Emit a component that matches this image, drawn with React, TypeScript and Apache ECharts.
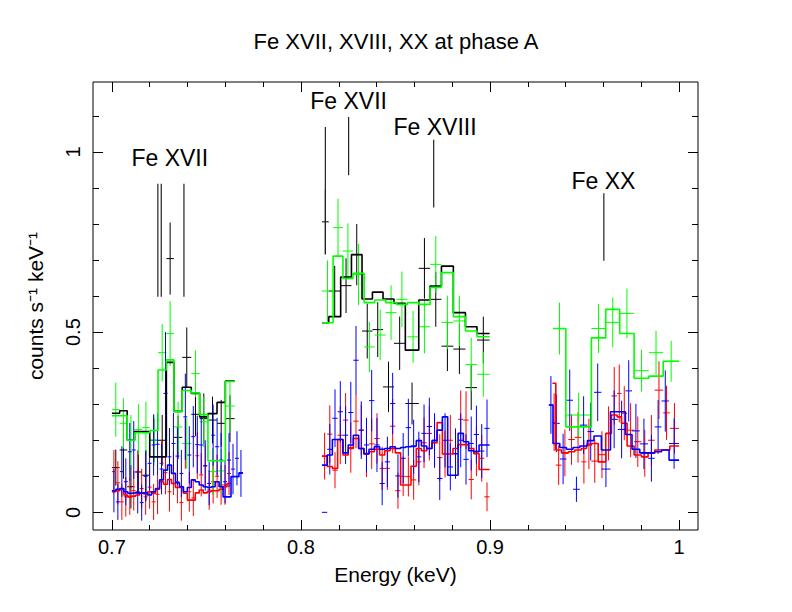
import { useEffect, useRef } from "react";
import * as echarts from "echarts";

const FONT = '"Liberation Sans", Arial, Helvetica, sans-serif';

const titleText = "Fe XVII, XVIII, XX at phase A";
const xName = "Energy (keV)";
const yName = "counts s\u207B\u00B9 keV\u207B\u00B9";

const xMajorTicks = [0.7, 0.8, 0.9, 1.0];
const xMinorTicks = [0.72, 0.74, 0.76, 0.78, 0.82, 0.84, 0.86, 0.88, 0.92, 0.94, 0.96, 0.98];
const yMajorTicks = [0, 0.5, 1];
const yMinorTicks = [0.1, 0.2, 0.3, 0.4, 0.6, 0.7, 0.8, 0.9, 1.1];

// ---------- black ----------
const blackEdges = [
  [0.7000, 0.7041, 0.7081, 0.7120, 0.7160, 0.7200, 0.7244, 0.7288, 0.7328, 0.7372, 0.7420, 0.7464, 0.7508, 0.7556, 0.7600, 0.7649],
  [0.8111, 0.8147, 0.8210, 0.8267, 0.8323, 0.8378, 0.8434, 0.8492, 0.8552, 0.8623, 0.8683, 0.8743, 0.8806, 0.8870, 0.8931, 0.8998],
];
const blackModel = [
  [0.275, 0.282, 0.200, 0.224, 0.224, 0.154, 0.154, 0.416, 0.280, 0.347, 0.330, 0.265, 0.274, 0.305, 0.364],
  [0.526, 0.543, 0.653, 0.715, 0.592, 0.611, 0.592, 0.580, 0.450, 0.589, 0.628, 0.683, 0.554, 0.515, 0.496],
];
const blackData = [
  [0.124, 0.173, 0.071, 0.112, 0.103, 0.200, 0.200, 0.704, 0.208, 0.430, 0.272, 0.260, 0.256, 0.247, 0.260],
  [0.806, 0.614, 0.629, 0.715, 0.503, 0.507, 0.348, 0.469, 0.302, 0.677, 0.591, 0.461, 0.453, 0.346, 0.478],
];
const blackErr = [
  [0.050, 0.080, 0.060, 0.060, 0.070, 0.060, 0.070, 0.100, 0.060, 0.083, 0.060, 0.070, 0.065, 0.065, 0.065],
  [0.090, 0.070, 0.076, 0.085, 0.076, 0.076, 0.070, 0.074, 0.058, 0.084, 0.076, 0.069, 0.069, 0.062, 0.065],
];

// ---------- green ----------
const greenEdges = [
  [0.7000, 0.7041, 0.7081, 0.7120, 0.7160, 0.7200, 0.7244, 0.7288, 0.7328, 0.7372, 0.7420, 0.7464, 0.7508, 0.7556, 0.7600, 0.7649],
  [0.8111, 0.8170, 0.8222, 0.8275, 0.8334, 0.8390, 0.8448, 0.8505, 0.8563, 0.8623, 0.8683, 0.8743, 0.8806, 0.8870, 0.8931, 0.8998],
  [0.9334, 0.9401, 0.9536, 0.9612, 0.9686, 0.9762, 0.9840, 0.9916, 1.0000],
];
const greenModel = [
  [0.268, 0.268, 0.200, 0.221, 0.221, 0.227, 0.395, 0.423, 0.280, 0.338, 0.331, 0.271, 0.143, 0.143, 0.363],
  [0.526, 0.711, 0.649, 0.663, 0.582, 0.589, 0.582, 0.577, 0.582, 0.577, 0.624, 0.665, 0.543, 0.503, 0.487],
  [0.510, 0.237, 0.484, 0.563, 0.496, 0.372, 0.378, 0.419],
];
const greenData = [
  [0.285, 0.247, 0.200, 0.230, 0.235, 0.200, 0.443, 0.496, 0.237, 0.191, 0.385, 0.251, 0.113, 0.115, 0.295],
  [0.614, 0.790, 0.725, 0.660, 0.459, 0.492, 0.554, 0.591, 0.487, 0.515, 0.688, 0.527, 0.531, 0.410, 0.383],
  [0.510, 0.270, 0.510, 0.527, 0.552, 0.393, 0.443, 0.419],
];
const greenErr = [
  [0.075, 0.070, 0.070, 0.070, 0.072, 0.070, 0.080, 0.090, 0.070, 0.070, 0.065, 0.070, 0.065, 0.060, 0.070],
  [0.085, 0.080, 0.077, 0.085, 0.070, 0.070, 0.076, 0.077, 0.072, 0.074, 0.079, 0.074, 0.070, 0.074, 0.062],
  [0.072, 0.062, 0.068, 0.069, 0.069, 0.058, 0.061, 0.057],
];

// ---------- red ----------
const redEdges = [
  [0.7000, 0.7021, 0.7042, 0.7063, 0.7084, 0.7105, 0.7126, 0.7147, 0.7168, 0.7189, 0.7210, 0.7231, 0.7252, 0.7273, 0.7294, 0.7315,
    0.7336, 0.7357, 0.7378, 0.7399, 0.7420, 0.7441, 0.7462, 0.7483, 0.7504, 0.7525, 0.7546, 0.7567, 0.7588, 0.7609, 0.7630],
  [0.8111, 0.8139, 0.8166, 0.8194, 0.8222, 0.8250, 0.8277, 0.8305, 0.8333, 0.8360, 0.8388, 0.8416, 0.8443, 0.8471, 0.8499, 0.8527,
    0.8554, 0.8582, 0.8610, 0.8637, 0.8665, 0.8693, 0.8720, 0.8748, 0.8776, 0.8804, 0.8831, 0.8859, 0.8887, 0.8914, 0.8942, 0.8970, 0.8998],
  [0.9330, 0.9348, 0.9378, 0.9414, 0.9448, 0.9483, 0.9510, 0.9536, 0.9572, 0.9612, 0.9642, 0.9672, 0.9695, 0.9725, 0.9762, 0.9801,
    0.9836, 0.9871, 0.9916, 0.9951, 1.0000],
];
const redModel = [
  [0.057, 0.060, 0.064, 0.048, 0.043, 0.045, 0.048, 0.053, 0.051, 0.057, 0.053, 0.064, 0.085, 0.078, 0.091, 0.080,
    0.069, 0.069, 0.053, 0.034, 0.034, 0.054, 0.062, 0.054, 0.057, 0.060, 0.060, 0.064, 0.071, 0.080],
  [0.156, 0.127, 0.122, 0.202, 0.159, 0.177, 0.205, 0.177, 0.163, 0.168, 0.175, 0.159, 0.171, 0.177, 0.165, 0.076,
    0.076, 0.128, 0.177, 0.171, 0.177, 0.193, 0.249, 0.162, 0.162, 0.177, 0.188, 0.188, 0.177, 0.163, 0.119, 0.119],
  [0.358, 0.173, 0.165, 0.168, 0.173, 0.177, 0.187, 0.191, 0.140, 0.219, 0.270, 0.265, 0.247, 0.184, 0.159, 0.154,
    0.164, 0.173, 0.173, 0.184],
];
const redData = [
  [0.113, 0.082, 0.029, 0.043, 0.043, 0.060, 0.112, 0.066, 0.043, 0.070, 0.029, 0.050, 0.136, 0.110, 0.057, 0.108,
    0.085, 0.027, 0.191, 0.057, 0.040, 0.157, 0.104, 0.128, 0.062, 0.085, 0.100, 0.076, 0.076, 0.108],
  [0.156, 0.217, 0.117, 0.214, 0.256, 0.180, 0.253, 0.228, 0.163, 0.190, 0.205, 0.122, 0.122, 0.239, 0.060, 0.100,
    0.099, 0.090, 0.140, 0.193, 0.219, 0.193, 0.152, 0.162, 0.200, 0.162, 0.258, 0.256, 0.091, 0.170, 0.150, 0.043],
  [0.250, 0.131, 0.165, 0.202, 0.208, 0.140, 0.190, 0.142, 0.160, 0.219, 0.323, 0.330, 0.275, 0.228, 0.196, 0.164,
    0.200, 0.339, 0.276, 0.233],
];
const redErr = [
  [0.060, 0.060, 0.050, 0.055, 0.050, 0.055, 0.060, 0.055, 0.050, 0.060, 0.050, 0.055, 0.065, 0.060, 0.055, 0.060,
    0.060, 0.050, 0.070, 0.055, 0.050, 0.065, 0.060, 0.060, 0.055, 0.060, 0.060, 0.055, 0.055, 0.060],
  [0.065, 0.080, 0.050, 0.080, 0.075, 0.070, 0.075, 0.070, 0.065, 0.070, 0.070, 0.060, 0.060, 0.075, 0.050, 0.055,
    0.055, 0.055, 0.065, 0.070, 0.075, 0.070, 0.065, 0.065, 0.070, 0.065, 0.080, 0.080, 0.055, 0.070, 0.065, 0.040],
  [0.080, 0.055, 0.065, 0.070, 0.070, 0.060, 0.070, 0.060, 0.065, 0.075, 0.080, 0.080, 0.075, 0.075, 0.070, 0.065,
    0.070, 0.080, 0.075, 0.070],
];

// ---------- blue ----------
const blueEdges = [
  [0.7000, 0.7021, 0.7042, 0.7063, 0.7084, 0.7105, 0.7126, 0.7147, 0.7168, 0.7189, 0.7210, 0.7231, 0.7252, 0.7273, 0.7294, 0.7315,
    0.7336, 0.7357, 0.7378, 0.7399, 0.7420, 0.7441, 0.7462, 0.7483, 0.7504, 0.7525, 0.7546, 0.7567, 0.7588, 0.7609, 0.7630, 0.7651,
    0.7672, 0.7693],
  [0.8111, 0.8139, 0.8166, 0.8194, 0.8222, 0.8250, 0.8277, 0.8305, 0.8333, 0.8360, 0.8388, 0.8416, 0.8443, 0.8471, 0.8499, 0.8527,
    0.8554, 0.8582, 0.8610, 0.8637, 0.8665, 0.8693, 0.8720, 0.8748, 0.8776, 0.8804, 0.8831, 0.8859, 0.8887, 0.8914, 0.8942, 0.8970, 0.8998],
  [0.9311, 0.9333, 0.9369, 0.9404, 0.9439, 0.9475, 0.9515, 0.9550, 0.9589, 0.9637, 0.9676, 0.9716, 0.9751, 0.9792, 0.9836, 0.9871,
    0.9907, 0.9947, 1.0000],
];
const blueModel = [
  [0.060, 0.064, 0.066, 0.057, 0.053, 0.054, 0.054, 0.054, 0.054, 0.048, 0.057, 0.066, 0.090, 0.117, 0.131, 0.108,
    0.082, 0.071, 0.057, 0.069, 0.090, 0.085, 0.076, 0.071, 0.069, 0.071, 0.085, 0.071, 0.043, 0.043, 0.099, 0.099, 0.110],
  [0.131, 0.159, 0.202, 0.202, 0.165, 0.187, 0.214, 0.177, 0.162, 0.175, 0.182, 0.175, 0.177, 0.182, 0.177, 0.180,
    0.182, 0.184, 0.199, 0.184, 0.177, 0.199, 0.228, 0.265, 0.103, 0.103, 0.219, 0.196, 0.171, 0.168, 0.187, 0.187],
  [0.298, 0.191, 0.180, 0.175, 0.180, 0.184, 0.199, 0.212, 0.173, 0.279, 0.279, 0.216, 0.175, 0.165, 0.165, 0.168,
    0.173, 0.145],
];
const blueData = [
  [0.060, 0.029, 0.113, 0.085, 0.168, 0.173, 0.057, 0.027, 0.100, 0.136, 0.187, 0.189, 0.120, 0.330, 0.154, 0.191,
    0.156, 0.108, 0.265, 0.159, 0.210, 0.188, 0.187, 0.130, 0.080, 0.214, 0.182, 0.145, 0.085, 0.145, 0.120, 0.150, 0.108],
  [0.000, 0.175, 0.261, 0.279, 0.214, 0.277, 0.422, 0.228, 0.187, 0.310, 0.187, 0.080, 0.140, 0.302, 0.101, 0.150,
    0.235, 0.182, 0.154, 0.219, 0.238, 0.200, 0.094, 0.200, 0.126, 0.163, 0.200, 0.147, 0.191, 0.216, 0.170, 0.233],
  [0.298, 0.247, 0.148, 0.311, 0.064, 0.242, 0.224, 0.333, 0.120, 0.258, 0.230, 0.337, 0.226, 0.190, 0.150, 0.237,
    0.309, 0.191],
];
const blueErr = [
  [0.060, 0.050, 0.070, 0.065, 0.080, 0.080, 0.060, 0.050, 0.070, 0.075, 0.085, 0.085, 0.070, 0.170, 0.080, 0.085,
    0.080, 0.065, 0.120, 0.080, 0.085, 0.080, 0.080, 0.070, 0.060, 0.085, 0.080, 0.075, 0.060, 0.075, 0.070, 0.075, 0.065],
  [0.000, 0.070, 0.080, 0.085, 0.080, 0.085, 0.095, 0.080, 0.075, 0.085, 0.075, 0.060, 0.070, 0.085, 0.060, 0.070,
    0.080, 0.075, 0.070, 0.080, 0.080, 0.075, 0.060, 0.075, 0.065, 0.070, 0.075, 0.070, 0.075, 0.080, 0.075, 0.080],
  [0.080, 0.080, 0.070, 0.085, 0.035, 0.080, 0.080, 0.080, 0.050, 0.080, 0.080, 0.085, 0.075, 0.070, 0.065, 0.075,
    0.085, 0.070],
];

// ---------- line identifications ----------
const lineMarkE = [0.7243, 0.7261, 0.7381, 0.8129, 0.8252, 0.8702, 0.9602];
const lineMarkTop = [0.912, 0.912, 0.912, 1.069, 1.097, 1.034, 0.885];
const lineMarkBottom = [0.598, 0.598, 0.598, 0.716, 0.935, 0.846, 0.698];
const lineLabels = ["Fe XVII", "Fe XVII", "Fe XVIII", "Fe XX"];
const lineLabelE = [0.7306, 0.8252, 0.8709, 0.9600];
const lineLabelY = [0.983, 1.140, 1.069, 0.918];

const groups = [
  { color: "#000000", edges: blackEdges, model: blackModel, data: blackData, err: blackErr },
  { color: "#ff0000", edges: redEdges, model: redModel, data: redData, err: redErr },
  { color: "#00ff00", edges: greenEdges, model: greenModel, data: greenData, err: greenErr },
  { color: "#0000ff", edges: blueEdges, model: blueModel, data: blueData, err: blueErr },
];

function crossPoints(edges: number[][], data: number[][], err: number[][]) {
  const out: number[][] = [];
  edges.forEach((e, r) => {
    data[r].forEach((v, i) => {
      out.push([(e[i] + e[i + 1]) / 2, v, (e[i + 1] - e[i]) / 2, err[r][i]]);
    });
  });
  return out;
}

function stepPoints(edges: number[], model: number[]) {
  const pts: number[][] = [];
  model.forEach((v, i) => {
    pts.push([edges[i], v]);
    pts.push([edges[i + 1], v]);
  });
  return pts;
}

export default function App() {
  const ref = useRef<HTMLDivElement>(null);
  useEffect(() => {
    if (!ref.current) return;
    const chart = echarts.init(ref.current, undefined, { renderer: "svg" });
    const X_MIN = 0.69, X_MAX = 1.01, Y_MIN = -0.049, Y_MAX = 1.194;

    const series: any[] = [];
    groups.forEach((g) => {
      series.push({
        type: "custom",
        silent: true,
        clip: true,
        data: crossPoints(g.edges, g.data, g.err),
        encode: { x: 0, y: 1 },
        renderItem: (_p: any, api: any) => {
          const x = api.value(0), y = api.value(1), hw = api.value(2), e = api.value(3);
          const l = api.coord([x - hw, y]);
          const r = api.coord([x + hw, y]);
          const t = api.coord([x, y + e]);
          const b = api.coord([x, y - e]);
          return {
            type: "group",
            children: [
              { type: "line", shape: { x1: l[0], y1: l[1], x2: r[0], y2: r[1] }, style: { stroke: g.color, lineWidth: 1 } },
              { type: "line", shape: { x1: t[0], y1: t[1], x2: b[0], y2: b[1] }, style: { stroke: g.color, lineWidth: 1 } },
            ],
          };
        },
      });
    });
    groups.forEach((g) => {
      g.edges.forEach((e, r) => {
        series.push({
          type: "line",
          silent: true,
          showSymbol: false,
          symbol: "none",
          data: stepPoints(e, g.model[r]),
          lineStyle: { color: g.color, width: 1.6 },
          z: 3,
        });
      });
    });
    series.push({
      type: "custom",
      silent: true,
      z: 4,
      data: lineMarkE.map((e, i) => [e, lineMarkTop[i], lineMarkBottom[i]]),
      encode: { x: 0, y: 1 },
      renderItem: (_p: any, api: any) => {
        const t = api.coord([api.value(0), api.value(1)]);
        const b = api.coord([api.value(0), api.value(2)]);
        return { type: "line", shape: { x1: t[0], y1: t[1], x2: b[0], y2: b[1] }, style: { stroke: "#222", lineWidth: 1.2 } };
      },
    });
    series.push({
      type: "custom",
      silent: true,
      z: 4,
      data: lineLabelE.map((e, i) => [e, lineLabelY[i], i]),
      encode: { x: 0, y: 1 },
      renderItem: (_p: any, api: any) => {
        const p = api.coord([api.value(0), api.value(1)]);
        return {
          type: "text",
          x: p[0],
          y: p[1],
          style: {
            text: lineLabels[api.value(2)],
            fill: "#000",
            fontSize: 23,
            fontFamily: FONT,
            align: "center",
            verticalAlign: "middle",
          },
        };
      },
    });

    const fmt = (v: number) => String(+Number(v).toFixed(2));
    const baseX = { type: "value", min: X_MIN, max: X_MAX, axisLine: { show: false, onZero: false }, splitLine: { show: false } };
    const baseY = { type: "value", min: Y_MIN, max: Y_MAX, axisLine: { show: false, onZero: false }, splitLine: { show: false } };
    const tick = (vals: number[], len: number) => ({ show: true, inside: true, length: len, customValues: vals, lineStyle: { color: "#000", width: 1 } });

    chart.setOption({
      animation: false,
      backgroundColor: "#ffffff",
      title: {
        text: titleText,
        left: "center",
        top: 30,
        padding: 0,
        textStyle: { fontSize: 22, fontWeight: "normal", color: "#000", fontFamily: FONT },
      },
      grid: { left: 93, right: 94, top: 82, bottom: 82, show: true, borderColor: "#000", borderWidth: 1, backgroundColor: "transparent" },
      xAxis: [
        {
          ...baseX,
          position: "bottom",
          axisTick: tick(xMajorTicks, 10),
          axisLabel: { show: true, customValues: xMajorTicks, formatter: fmt, fontSize: 20, color: "#000", fontFamily: FONT, margin: 7 },
          name: xName,
          nameLocation: "middle",
          nameGap: 34,
          nameTextStyle: { fontSize: 21, color: "#000", fontFamily: FONT },
        },
        { ...baseX, position: "bottom", axisTick: tick(xMinorTicks, 5), axisLabel: { show: false } },
        { ...baseX, position: "top", axisTick: tick(xMajorTicks, 10), axisLabel: { show: false } },
        { ...baseX, position: "top", axisTick: tick(xMinorTicks, 5), axisLabel: { show: false } },
      ],
      yAxis: [
        {
          ...baseY,
          position: "left",
          axisTick: tick(yMajorTicks, 10),
          axisLabel: { show: true, customValues: yMajorTicks, formatter: fmt, rotate: 90, fontSize: 20, color: "#000", fontFamily: FONT, margin: 10 },
          name: yName,
          nameLocation: "middle",
          nameGap: 47,
          nameTextStyle: { fontSize: 21, color: "#000", fontFamily: FONT },
        },
        { ...baseY, position: "left", axisTick: tick(yMinorTicks, 6), axisLabel: { show: false } },
        { ...baseY, position: "right", axisTick: tick(yMajorTicks, 10), axisLabel: { show: false } },
        { ...baseY, position: "right", axisTick: tick(yMinorTicks, 6), axisLabel: { show: false } },
      ],
      series,
    });
    return () => chart.dispose();
  }, []);
  return <div ref={ref} style={{ position: "fixed", left: 0, top: 0, width: 792, height: 612, background: "#fff" }} />;
}
